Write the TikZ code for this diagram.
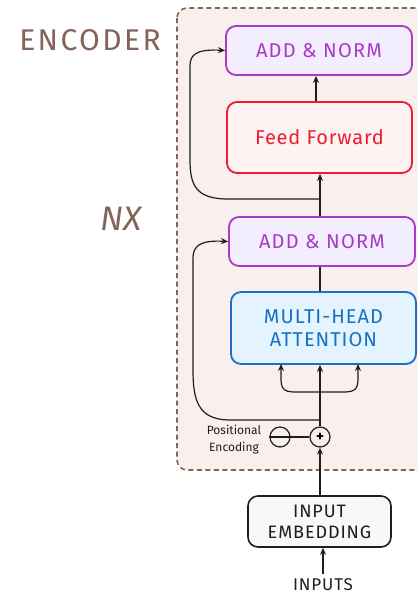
\documentclass[tikz,border=0pt]{standalone}
\usepackage{fontspec}
\setmainfont{Fira Sans}
\usetikzlibrary{arrows.meta}
\definecolor{brn}{HTML}{846358}
\definecolor{contfill}{HTML}{F9EFEC}
\definecolor{pur}{HTML}{A93BC4}
\definecolor{purfill}{HTML}{F3EEFD}
\definecolor{rd}{HTML}{EE1C2E}
\definecolor{rdfill}{HTML}{FDF3F3}
\definecolor{bl}{HTML}{1971C2}
\definecolor{blfill}{HTML}{E4F4FE}
\definecolor{ink}{HTML}{1E1E1E}
\definecolor{embfill}{HTML}{F7F8FA}
\begin{document}
\begin{tikzpicture}[x=1pt,y=-1pt,
  box/.style={draw, line width=1.8pt, rounded corners=10pt, inner sep=0pt, align=center},
  arr/.style={draw=ink, line width=1.2pt, -{Stealth[length=7pt,width=6pt]}},
  ln/.style={draw=ink, line width=1.2pt}]
\useasboundingbox (0,0) rectangle (418,595);
\clip (0,0) rectangle (418,595);
% container
\draw[brn, line width=1.6pt, dash pattern=on 5pt off 3.5pt, fill=contfill, rounded corners=10pt] (177,8) rectangle (445,470);
% labels
\node[text=brn, font=\fontsize{30}{32}\selectfont\addfontfeature{LetterSpace=8}] (enc) at (90,40) {ENCODER};
\node[text=brn, font=\fontsize{34}{36}\selectfont\itshape] (nx) at (121,219) {NX};
% boxes
\node[box, draw=pur, fill=purfill, text=pur, minimum width=186pt, minimum height=49pt,
  font=\fontsize{20}{22}\selectfont\addfontfeature{LetterSpace=6}] (an2) at (319,50.5) {ADD \& NORM};
\node[box, draw=rd, fill=rdfill, text=rd, minimum width=185pt, minimum height=71pt,
  font=\fontsize{20}{22}\selectfont\addfontfeature{LetterSpace=4}] (ff) at (319.5,137.5) {Feed Forward};
\node[box, draw=pur, fill=purfill, text=pur, minimum width=186pt, minimum height=49pt,
  font=\fontsize{20}{22}\selectfont\addfontfeature{LetterSpace=6}] (an1) at (322,241.5) {ADD \& NORM};
\node[box, draw=bl, fill=blfill, text=bl, minimum width=185pt, minimum height=72pt,
  font=\fontsize{20}{23}\selectfont\addfontfeature{LetterSpace=5}] (mha) at (323.5,328) {MULTI-HEAD\\ATTENTION};
\node[box, draw=ink, line width=1.6pt, fill=embfill, text=ink, minimum width=143pt, minimum height=51pt,
  font=\fontsize{18}{21}\selectfont\addfontfeature{LetterSpace=5}] (emb) at (319.5,521.5) {INPUT\\EMBEDDING};
\node[text=ink, inner sep=0.5pt, font=\fontsize{17}{19}\selectfont\addfontfeature{LetterSpace=5}] (inp) at (323,585) {INPUTS};
% circles
\node[draw=ink, line width=1.2pt, circle, minimum size=20pt, inner sep=0pt, font=\bfseries\fontsize{15}{15}\selectfont] (plus) at (320,437) {+};
\node[draw=ink, line width=1.2pt, circle, minimum size=20pt, inner sep=0pt] (pe) at (280,437) {};
\draw[ink, line width=1.2pt] (pe.west) -- (pe.east);
\draw[ln] (pe.east) -- (plus.west);
\node[text=ink, font=\fontsize{12}{17}\selectfont, align=center] (pel) at (234,440) {Positional\\Encoding};
% connectors
\draw[arr] (inp.north) ++(0,-4) coordinate (inpt) -- (inpt |- emb.south);
\draw[arr] (emb.north -| plus) -- (plus.south);
\draw[arr] (plus.north) -- (plus.north |- mha.south);
\coordinate (br) at (320,392);
\coordinate (lt) at (281,364);
\coordinate (rt) at (358,364);
\draw[arr] (br) -- (295,392) .. controls (283,392) and (281,388) .. (281,378) -- (lt);
\draw[arr] (br) -- (344,392) .. controls (356,392) and (358,388) .. (358,378) -- (rt);
% residual 1
\coordinate (r1) at (320,420);
\draw[arr] (r1) -- (228,420) .. controls (198,419) and (193,400) .. (193,370) -- (193,258) .. controls (193,246) and (200,240) .. (an1.west);
% mha to an1
\draw[ln] (mha.north -| plus) -- (an1.south -| plus);
% an1 to ff
\draw[arr] (an1.north -| plus) -- (ff.south -| plus);
% residual 2
\coordinate (r2) at (320,199);
\draw[arr] (r2) -- (225,199) .. controls (196,198) and (190,185) .. (190,160) -- (190,66) .. controls (190,54) and (197,49) .. (an2.west);
% ff to an2
\draw[arr] (ff.north -| 316,0) -- (an2.south -| 316,0);
\end{tikzpicture}
\end{document}
